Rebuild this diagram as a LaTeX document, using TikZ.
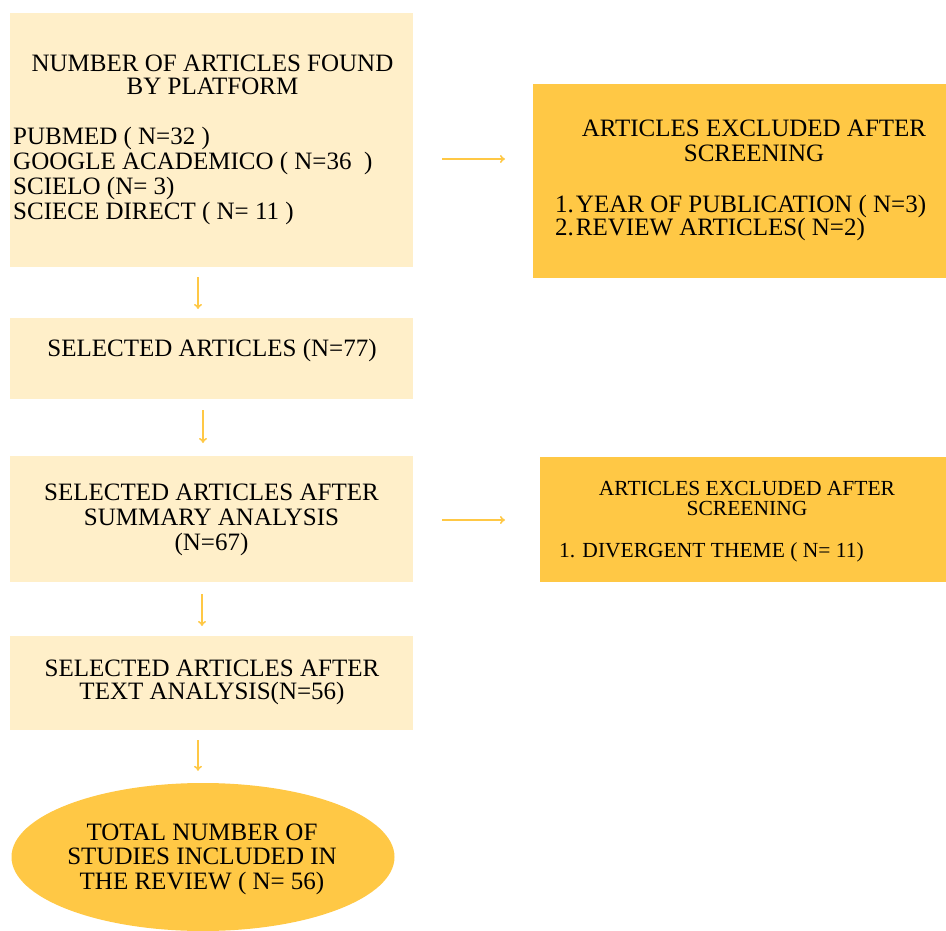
\documentclass[tikz,border=0pt]{standalone}
\usepackage{fontspec}
\setmainfont{Liberation Serif}
\usetikzlibrary{arrows.meta,shapes.geometric}
\definecolor{lightfill}{HTML}{FFEFC9}
\definecolor{darkfill}{HTML}{FFC845}
\definecolor{arrowcol}{HTML}{FFC845}
\tikzset{
  lightbox/.style={rectangle, fill=lightfill, draw=none, inner sep=0pt, anchor=north west},
  darkbox/.style={rectangle, fill=darkfill, draw=none, inner sep=0pt, anchor=north west},
  oval/.style={ellipse, fill=darkfill, draw=none, inner sep=0pt},
  big/.style={inner sep=0pt, font=\fontsize{25}{25}\selectfont},
  small/.style={inner sep=0pt, font=\fontsize{21.5}{21.5}\selectfont},
  arr/.style={draw=arrowcol, line width=1.6pt, -{To[length=5pt,width=8pt]}}
}
\begin{document}
\begin{tikzpicture}[x=1pt,y=-1pt]
\useasboundingbox (0,0) rectangle (946,931);
% boxes
\node[lightbox, minimum width=403pt, minimum height=254pt] (A) at (10,13) {};
\node[darkbox, minimum width=413pt, minimum height=194pt] (B) at (533,84) {};
\node[lightbox, minimum width=403pt, minimum height=81pt] (C) at (10,318) {};
\node[lightbox, minimum width=403pt, minimum height=126pt] (D) at (10,456) {};
\node[darkbox, minimum width=406pt, minimum height=125pt] (E) at (540,457) {};
\node[lightbox, minimum width=403pt, minimum height=94pt] (F) at (10,636) {};
\node[oval, minimum width=383pt, minimum height=148pt] (G) at (203,857) {};
% texts box A
\node[big, anchor=base] (a1) at (212.5,72) {NUMBER OF ARTICLES FOUND};
\node[big, anchor=base] (a2) at (212.5,95) {BY PLATFORM};
\node[big, anchor=base west] (a3) at (13,145) {PUBMED ( N=32 )};
\node[big, anchor=base west] (a4) at (13,170) {GOOGLE ACADEMICO ( N=36\ \ )};
\node[big, anchor=base west] (a5) at (13,195) {SCIELO (N= 3)};
\node[big, anchor=base west] (a6) at (13,220) {SCIECE DIRECT ( N= 11 )};
% texts box B
\node[big, anchor=base] (b1) at (754,137) {ARTICLES EXCLUDED AFTER};
\node[big, anchor=base] (b2) at (754,162) {SCREENING};
\node[big, anchor=base west] (b3) at (555,212) {1.\kern2pt YEAR OF PUBLICATION ( N=3)};
\node[big, anchor=base west] (b4) at (555,236) {2.\kern2pt REVIEW ARTICLES( N=2)};
% box C
\node[big, anchor=base] (c1) at (212,356) {SELECTED ARTICLES (N=77)};
% box D
\node[big, anchor=base] (d1) at (211.5,500) {SELECTED ARTICLES AFTER};
\node[big, anchor=base] (d2) at (211.5,525) {SUMMARY ANALYSIS};
\node[big, anchor=base] (d3) at (211.5,550) {(N=67)};
% box E
\node[small, anchor=base] (e1) at (747,495) {ARTICLES EXCLUDED AFTER};
\node[small, anchor=base] (e2) at (747,515) {SCREENING};
\node[small, anchor=base west] (e3) at (559,557) {1. DIVERGENT THEME ( N= 11)};
% box F
\node[big, anchor=base] (f1) at (212,676) {SELECTED ARTICLES AFTER};
\node[big, anchor=base] (f2) at (212,699) {TEXT ANALYSIS(N=56)};
% ellipse
\node[big, anchor=base] (g1) at (202,840) {TOTAL NUMBER OF};
\node[big, anchor=base] (g2) at (202,864) {STUDIES INCLUDED IN};
\node[big, anchor=base] (g3) at (202,889) {THE REVIEW ( N= 56)};
% connector guide coordinates
\coordinate (yAB) at (0,159);
\coordinate (yDE) at (0,520);
\coordinate (xAC) at (198,0);
\coordinate (xCD) at (203,0);
\coordinate (xDF) at (202,0);
\coordinate (xFG) at (198,0);
% connectors
\draw[arr, shorten <=29pt, shorten >=28pt] (A.east |- yAB) -- (B.west |- yAB);
\draw[arr, shorten <=29pt, shorten >=35pt] (D.east |- yDE) -- (E.west |- yDE);
\draw[arr, shorten <=10pt, shorten >=9pt] (A.south -| xAC) -- (C.north -| xAC);
\draw[arr, shorten <=11pt, shorten >=13pt] (C.south -| xCD) -- (D.north -| xCD);
\draw[arr, shorten <=12pt, shorten >=10pt] (D.south -| xDF) -- (F.north -| xDF);
\draw[arr, shorten <=10pt, shorten >=12pt] (F.south -| xFG) -- (G.north -| xFG);
\end{tikzpicture}
\end{document}
